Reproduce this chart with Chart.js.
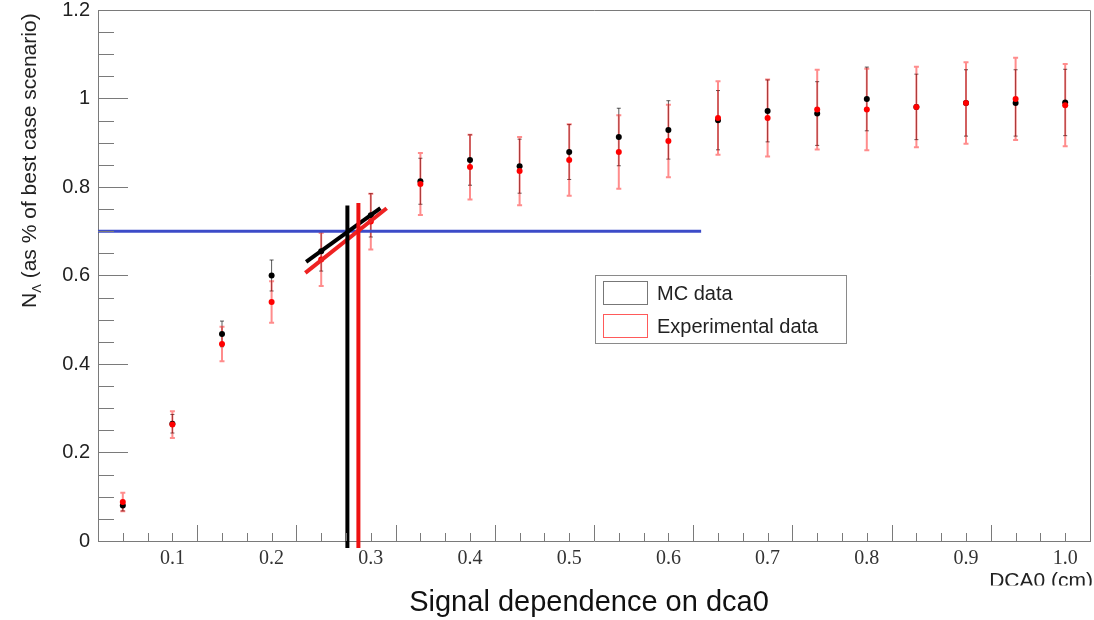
<!DOCTYPE html>
<html>
<head>
<meta charset="utf-8">
<script src="https://cdn.jsdelivr.net/npm/chart.js@4.4.1/dist/chart.umd.min.js"></script>
<style>
  html, body { margin: 0; padding: 0; background: #fff; }
  #wrap { width: 1094px; height: 620px; position: relative; }
</style>
</head>
<body>
<div id="wrap"><canvas id="c" width="1094" height="620"></canvas></div>
<script>
// ---------- data ----------
const xValues   = [0.05, 0.10, 0.15, 0.20, 0.25, 0.30, 0.35, 0.40, 0.45, 0.50, 0.55, 0.60, 0.65, 0.70, 0.75, 0.80, 0.85, 0.90, 0.95, 1.00];
const mcValues  = [0.080, 0.265, 0.468, 0.600, 0.655, 0.736, 0.813, 0.861, 0.847, 0.879, 0.913, 0.929, 0.951, 0.972, 0.966, 0.999, 0.981, 0.990, 0.990, 0.991];
const mcErrors  = [0.012, 0.021, 0.029, 0.035, 0.045, 0.049, 0.052, 0.057, 0.061, 0.062, 0.065, 0.066, 0.067, 0.070, 0.072, 0.072, 0.074, 0.075, 0.075, 0.075];
const expValues = [0.088, 0.263, 0.445, 0.540, 0.636, 0.722, 0.807, 0.845, 0.836, 0.861, 0.879, 0.904, 0.956, 0.956, 0.975, 0.975, 0.981, 0.990, 0.999, 0.985];
const expErrors = [0.021, 0.030, 0.039, 0.047, 0.060, 0.063, 0.070, 0.073, 0.077, 0.081, 0.083, 0.082, 0.083, 0.087, 0.090, 0.092, 0.091, 0.092, 0.093, 0.093];

const thresholdLine = [{x: 0.025, y: 0.70}, {x: 0.633, y: 0.70}];
const mcFitLine     = [{x: 0.2348, y: 0.631}, {x: 0.3097, y: 0.752}];
const expFitLine    = [{x: 0.2340, y: 0.606}, {x: 0.3160, y: 0.752}];
const mcCutLine     = [{x: 0.2764, y: -0.016}, {x: 0.2764, y: 0.758}];
const expCutLine    = [{x: 0.2875, y: -0.016}, {x: 0.2875, y: 0.764}];

const xTickLabels = {"0.1":"0.1","0.2":"0.2","0.3":"0.3","0.4":"0.4","0.5":"0.5","0.6":"0.6","0.7":"0.7","0.8":"0.8","0.9":"0.9","1.0":"1.0"};
const yTickLabels = {"0":"0","0.2":"0.2","0.4":"0.4","0.6":"0.6","0.8":"0.8","1":"1","1.2":"1.2"};
const seriesNames = ["MC data", "Experimental data"];
const xTitle = "Signal dependence on dca0";
const xUnitTitle = "DCA0 (cm)";
const yTitleMain = "N";
const yTitleSub = "\u039B";
const yTitleRest = " (as % of best case scenario)";

// ---------- helpers ----------
const SANS = '"Liberation Sans", Arial, Helvetica, sans-serif';
const SERIF = '"Liberation Serif", "Times New Roman", serif';
const AXIS_COLOR = '#7a7a7a';

const mcPoints  = xValues.map((x, i) => ({x, y: mcValues[i]}));
const expPoints = xValues.map((x, i) => ({x, y: expValues[i]}));

const errorBarPlugin = {
  id: 'errorBars',
  beforeDatasetsDraw(chart) {
    const ctx = chart.ctx, xs = chart.scales.x, ys = chart.scales.y;
    const draw = (vals, errs, color, width, cap) => {
      ctx.save();
      ctx.strokeStyle = color; ctx.lineWidth = width;
      xValues.forEach((x, i) => {
        const px = xs.getPixelForValue(x);
        const top = ys.getPixelForValue(vals[i] + errs[i]);
        const bot = ys.getPixelForValue(vals[i] - errs[i]);
        ctx.beginPath();
        ctx.moveTo(px, top); ctx.lineTo(px, bot);
        ctx.moveTo(px - cap, top); ctx.lineTo(px + cap, top);
        ctx.moveTo(px - cap, bot); ctx.lineTo(px + cap, bot);
        ctx.stroke();
      });
      ctx.restore();
    };
    draw(mcValues, mcErrors, 'rgba(0,0,0,0.65)', 1, 2);
    draw(expValues, expErrors, 'rgba(255,0,0,0.45)', 2, 2.5);
  }
};

const decorPlugin = {
  id: 'decor',
  afterDraw(chart) {
    const ctx = chart.ctx, xs = chart.scales.x, ys = chart.scales.y;
    const a = chart.chartArea;
    ctx.save();
    // frame top/right
    ctx.strokeStyle = AXIS_COLOR; ctx.lineWidth = 1;
    ctx.beginPath();
    ctx.moveTo(a.left, a.top + 0.5); ctx.lineTo(a.right + 0.5, a.top + 0.5);
    ctx.lineTo(a.right + 0.5, a.bottom);
    ctx.stroke();
    // y ticks inward
    for (let k = 0; k <= 24; k++) {
      const v = k * 0.05;
      const py = Math.round(ys.getPixelForValue(v)) + 0.5;
      const len = (k % 4 === 0) ? 30 : 16;
      ctx.beginPath(); ctx.moveTo(a.left, py); ctx.lineTo(a.left + len, py); ctx.stroke();
    }
    // x ticks inward (upwards)
    xs.ticks.forEach(t => {
      const v = t.value;
      if (v < 0.04 || v > 1.01) return;
      const px = Math.round(xs.getPixelForValue(v)) + 0.5;
      const r = Math.round((v - 0.125) / 0.025);
      const long = Math.abs((v - 0.125) / 0.025 - r) < 1e-6 && r % 4 === 0;
      const len = long ? 16 : 8;
      ctx.beginPath(); ctx.moveTo(px, a.bottom); ctx.lineTo(px, a.bottom - len); ctx.stroke();
    });
    // legend
    ctx.fillStyle = '#fff';
    ctx.fillRect(595, 275, 251, 68);
    ctx.strokeStyle = '#8a8a8a'; ctx.lineWidth = 1;
    ctx.strokeRect(595.5, 275.5, 251, 68);
    ctx.strokeStyle = '#777'; ctx.strokeRect(603.5, 281.5, 44, 23);
    ctx.strokeStyle = '#ff5a5a'; ctx.strokeRect(603.5, 314.5, 44, 23);
    ctx.fillStyle = '#222'; ctx.font = '20px ' + SANS; ctx.textBaseline = 'alphabetic'; ctx.textAlign = 'left';
    ctx.fillText(seriesNames[0], 657, 300);
    ctx.fillText(seriesNames[1], 657, 333);
    // x title
    ctx.fillStyle = '#111'; ctx.font = '29px ' + SANS; ctx.textAlign = 'center';
    ctx.fillText(xTitle, 589, 611);
    // unit title (clipped at bottom as in the reference)
    ctx.save();
    ctx.beginPath(); ctx.rect(900, 560, 194, 25.5); ctx.clip();
    ctx.fillStyle = '#222'; ctx.font = '21px ' + SANS; ctx.textAlign = 'right';
    ctx.fillText(xUnitTitle, 1093, 587);
    ctx.restore();
    // y title rotated
    ctx.translate(36, 308); ctx.rotate(-Math.PI / 2);
    ctx.fillStyle = '#222'; ctx.textAlign = 'left';
    ctx.font = '21px ' + SANS;
    let x0 = 0;
    ctx.fillText(yTitleMain, x0, 0); x0 += ctx.measureText(yTitleMain).width;
    ctx.font = '13px ' + SANS;
    ctx.fillText(yTitleSub, x0, 5); x0 += ctx.measureText(yTitleSub).width;
    ctx.font = '21px ' + SANS;
    ctx.fillText(yTitleRest, x0, 0);
    ctx.restore();
  }
};

const lineDs = (label, data, color, width, order) => ({
  type: 'line', label, data, borderColor: color, backgroundColor: color,
  borderWidth: width, pointRadius: 0, pointHoverRadius: 0, showLine: true,
  fill: false, tension: 0, clip: false, order, borderCapStyle: 'butt'
});

new Chart(document.getElementById('c'), {
  type: 'scatter',
  data: {
    datasets: [
      lineDs('mc cut', mcCutLine, '#000000', 4, 0),
      lineDs('exp cut', expCutLine, '#ee1111', 4, 0),
      lineDs('mc fit', mcFitLine, '#000000', 4, 1),
      lineDs('exp fit', expFitLine, '#ee2222', 4, 1),
      lineDs('threshold', thresholdLine, '#3c4bc8', 3, 2),
      { label: seriesNames[1], data: expPoints, backgroundColor: '#ff0000', borderColor: '#ff0000',
        pointRadius: 3, pointBorderWidth: 0, order: 3 },
      { label: seriesNames[0], data: mcPoints, backgroundColor: '#000000', borderColor: '#000000',
        pointRadius: 3, pointBorderWidth: 0, order: 4 }
    ]
  },
  options: {
    responsive: false,
    animation: false,
    events: [],
    layout: { padding: { left: 0, top: 10, right: 4, bottom: 0 } },
    plugins: { legend: { display: false }, tooltip: { enabled: false } },
    scales: {
      x: {
        type: 'linear', min: 0.025, max: 1.025,
        afterFit(s) { s.height = 79; s.paddingLeft = 0; s.paddingRight = 0; },
        grid: { display: true, drawOnChartArea: false, drawTicks: false },
        border: { display: true, color: AXIS_COLOR, width: 1 },
        ticks: {
          stepSize: 0.025, autoSkip: false, maxRotation: 0, padding: 6,
          color: '#333', font: { family: SERIF, size: 20 },
          callback(v) {
            const key = (Math.round(v * 10) / 10).toFixed(1);
            if (Math.abs(v * 10 - Math.round(v * 10)) > 1e-6) return '';
            return xTickLabels[key] || '';
          }
        }
      },
      y: {
        type: 'linear', min: 0, max: 1.2,
        afterFit(s) { s.width = 98; s.paddingTop = 0; s.paddingBottom = 0; },
        grid: { display: true, drawOnChartArea: false, drawTicks: false },
        border: { display: true, color: AXIS_COLOR, width: 1 },
        ticks: {
          stepSize: 0.2, padding: 8, color: '#222', font: { family: SANS, size: 20 },
          callback(v) {
            const key = String(Math.round(v * 10) / 10);
            return yTickLabels[key] !== undefined ? yTickLabels[key] : '';
          }
        }
      }
    }
  },
  plugins: [errorBarPlugin, decorPlugin]
});
</script>
</body>
</html>
